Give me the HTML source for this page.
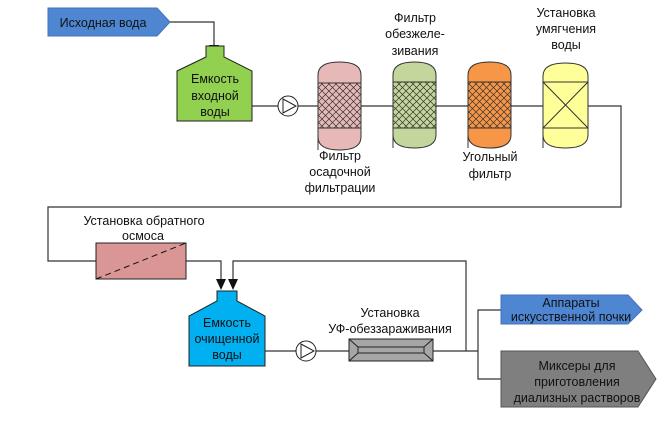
<!DOCTYPE html>
<html><head><meta charset="utf-8"><style>
html,body{margin:0;padding:0;background:#fff;}
svg{display:block;}
text{font-family:"Liberation Sans",sans-serif;font-size:12.5px;fill:#111;text-anchor:middle;}
</style></head><body>
<svg width="662" height="424" viewBox="0 0 662 424" xmlns="http://www.w3.org/2000/svg">
<defs>
<pattern id="h" width="7" height="7" patternUnits="userSpaceOnUse">
<path d="M0,0 L7,7 M7,0 L0,7" stroke="#333" stroke-width="0.7"/>
</pattern>
<marker id="a" markerWidth="8" markerHeight="8" refX="4" refY="7" orient="auto" markerUnits="userSpaceOnUse">
<path d="M0,0 L8,0 L4,8 Z" fill="#111" transform="rotate(-90 4 4)"/>
</marker>
</defs>
<g stroke="#333" stroke-width="1.2" fill="none">
<!-- source arrow line -->
<polyline points="170,22 214,22 214,45"/>
<!-- main line -->
<polyline points="252,106 621,106 621,207 48,207 48,261 96,261"/>
<polyline points="186,261 221,261 221,288"/>
<polyline points="233,288 233,261 466,261 466,351"/>
<polyline points="265,351 478,351"/>
<polyline points="501,310 478,310 478,379 501,379"/>
</g>
<!-- arrowheads -->
<path d="M209,45 L219,45 L214,56 Z" fill="#111"/>
<path d="M216,279 L226,279 L221,290 Z" fill="#111"/>
<path d="M228,279 L238,279 L233,290 Z" fill="#111"/>
<!-- source banner -->
<path d="M48,8 L157,8 L170,22 L157,36 L48,36 Z" fill="#4f86d2" stroke="#4572b8"/>
<text x="103" y="27">Исходная вода</text>
<!-- tank 1 -->
<path d="M206,46 L224,46 L224,57 L252,71 L252,121 L177,121 L177,71 L206,57 Z" fill="#92d050" stroke="#222"/>
<text x="215" y="83">Емкость</text><text x="215" y="100">входной</text><text x="215" y="116">воды</text>
<!-- pump 1 -->
<circle cx="288" cy="106" r="10" fill="#fff" stroke="#222"/>
<path d="M283,99 L296,106 L283,113 Z" fill="none" stroke="#222"/>
<!-- filters -->
<g stroke="#333" stroke-width="1">
<path d="M318,150 L318,75 Q318,62 339.5,62 Q361,62 361,75 L361,137 Q361,150 339.5,150 Q318,150 318,137 Z" fill="#e6b9b8"/>
<rect x="318" y="83" width="43" height="45" fill="#e6b9b8"/><rect x="318" y="83" width="43" height="45" fill="url(#h)"/>
<path d="M393,148 L393,75 Q393,62 414.5,62 Q436,62 436,75 L436,135 Q436,148 414.5,148 Q393,148 393,135 Z" fill="#c3d69b"/>
<rect x="393" y="82" width="43" height="46" fill="#c3d69b"/><rect x="393" y="82" width="43" height="46" fill="url(#h)"/>
<path d="M468,148 L468,75 Q468,62 489.5,62 Q511,62 511,75 L511,135 Q511,148 489.5,148 Q468,148 468,135 Z" fill="#f79646"/>
<rect x="468" y="82" width="43" height="46" fill="#f79646"/><rect x="468" y="82" width="43" height="46" fill="url(#h)"/>
<path d="M543,148 L543,76 Q543,63 565.5,63 Q588,63 588,76 L588,135 Q588,148 565.5,148 Q543,148 543,135 Z" fill="#ffff99"/>
<rect x="543" y="82" width="45" height="46" fill="#ffff99"/>
<path d="M543,82 L588,128 M588,82 L543,128" />
</g>
<text x="340" y="160">Фильтр</text><text x="340" y="176">осадочной</text><text x="340" y="192">фильтрации</text>
<text x="415" y="22">Фильтр</text><text x="415" y="38">обезжеле-</text><text x="415" y="55">зивания</text>
<text x="490" y="161">Угольный</text><text x="490" y="178">фильтр</text>
<text x="566" y="17">Установка</text><text x="566" y="33">умягчения</text><text x="566" y="49">воды</text>
<!-- RO -->
<rect x="96" y="243" width="90" height="36" fill="#da9694" stroke="#222"/>
<path d="M96,279 L186,243" stroke="#111" stroke-dasharray="6,4"/>
<text x="144" y="225">Установка обратного</text><text x="143" y="240">осмоса</text>
<!-- tank 2 -->
<path d="M217,291 L237,291 L237,301 L265,316 L265,366 L189,366 L189,316 L217,301 Z" fill="#00b0f0" stroke="#222"/>
<text x="227" y="327">Емкость</text><text x="227" y="343">очищенной</text><text x="227" y="359">воды</text>
<!-- pump 2 -->
<circle cx="306" cy="351" r="10" fill="#fff" stroke="#222"/>
<path d="M301,344 L314,351 L301,358 Z" fill="none" stroke="#222"/>
<!-- UV -->
<rect x="349" y="339" width="84" height="22" fill="#a6a6a6" stroke="#222"/>
<path d="M349,339 L358,347 L424,347 L433,339 M349,361 L358,353 L424,353 L433,361 M358,347 L358,353 M424,347 L424,353" fill="none" stroke="#222"/>
<text x="390" y="317">Установка</text><text x="390" y="333">УФ-обеззараживания</text>
<!-- outputs -->
<path d="M501,295 L628,295 L642,310 L628,324 L501,324 Z" fill="#4f86d2" stroke="#4572b8"/>
<text x="571" y="307">Аппараты</text><text x="571" y="321">искусственной почки</text>
<path d="M501,351 L638,351 L656,379 L638,407 L501,407 Z" fill="#7f7f7f" stroke="#555"/>
<text x="577" y="370">Миксеры для</text><text x="577" y="386">приготовления</text><text x="577" y="402">диализных растворов</text>
</svg>
</body></html>
